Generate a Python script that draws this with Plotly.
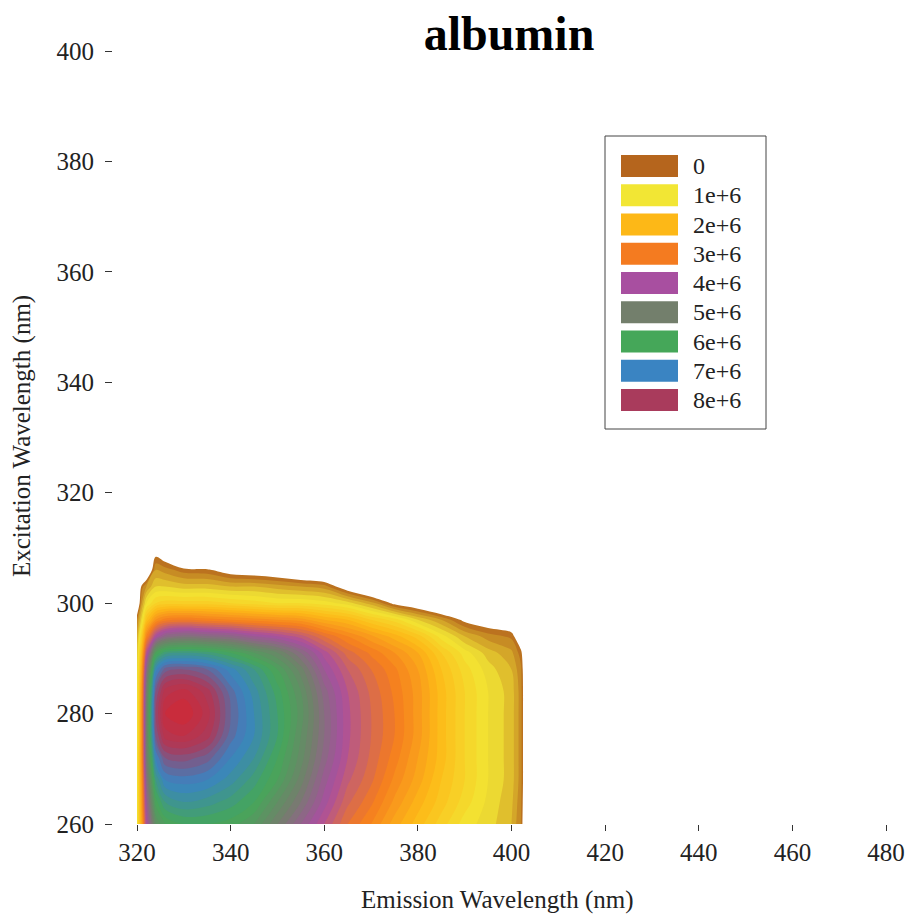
import plotly.graph_objects as go

# ---------------- data (intensity in units of 1e6) ----------------
emission = [320, 321, 322, 324, 326, 330, 335, 340, 345, 350, 355,
            360, 365, 370, 375, 380, 385, 390, 395, 400, 402, 404]
excitation = [260, 264, 268, 272, 276, 280, 284, 288, 291, 294, 297,
              300, 303, 306, 309, 312]

# one list per emission wavelength, values ordered by excitation
col_320 = [1.0, 1.0, 1.0, 1.0, 0.9, 0.9, 0.9, 0.8, 0.7, 0.5, 0.2, -0.5, -1, -1, -1, -1]
col_321 = [2.3, 2.4, 2.5, 2.6, 2.6, 2.6, 2.5, 2.3, 2.0, 1.5, 0.9, 0.4, 0.1, -1, -1, -1]
col_322 = [4.0, 4.3, 4.6, 4.9, 5.0, 5.0, 4.9, 4.5, 3.8, 2.8, 1.8, 1.0, 0.4, -0.6, -1, -1]
col_324 = [5.4, 5.9, 6.4, 7.0, 7.6, 7.8, 7.6, 6.9, 5.8, 4.0, 2.6, 1.4, 0.8, 0.4, -0.1, -1]
col_326 = [5.8, 6.4, 7.0, 7.6, 8.3, 8.6, 8.3, 7.5, 6.3, 4.5, 2.9, 1.5, 0.8, 0.3, -0.3, -1]
col_330 = [6.0, 6.6, 7.1, 7.7, 8.4, 8.8, 8.5, 7.6, 6.4, 4.7, 3.0, 1.5, 0.7, 0.1, -1, -1]
col_335 = [6.0, 6.5, 7.0, 7.5, 8.1, 8.3, 8.1, 7.4, 6.3, 4.6, 2.9, 1.5, 0.7, 0.05, -1, -1]
col_340 = [5.9, 6.3, 6.7, 7.0, 7.3, 7.4, 7.3, 6.9, 6.0, 4.5, 2.8, 1.4, 0.6, -0.2, -1, -1]
col_345 = [5.6, 6.0, 6.3, 6.6, 6.8, 6.8, 6.7, 6.4, 5.6, 4.2, 2.7, 1.3, 0.6, -0.3, -1, -1]
col_350 = [5.0, 5.4, 5.8, 6.0, 6.2, 6.2, 6.1, 5.8, 5.2, 4.0, 2.6, 1.2, 0.5, -0.4, -1, -1]
col_355 = [4.4, 4.8, 5.1, 5.3, 5.4, 5.5, 5.4, 5.1, 4.6, 3.7, 2.5, 1.2, 0.4, -0.6, -1, -1]
col_360 = [3.8, 4.1, 4.3, 4.5, 4.6, 4.6, 4.5, 4.2, 3.9, 3.2, 2.2, 1.1, 0.3, -0.8, -1, -1]
col_365 = [3.2, 3.45, 3.65, 3.8, 3.85, 3.85, 3.8, 3.6, 3.3, 2.8, 2.0, 0.9, -0.3, -1, -1, -1]
col_370 = [2.8, 3.05, 3.25, 3.35, 3.4, 3.4, 3.35, 3.2, 2.95, 2.45, 1.6, 0.5, -0.8, -1, -1, -1]
col_375 = [2.3, 2.55, 2.75, 2.9, 3.0, 3.0, 2.95, 2.85, 2.6, 2.1, 1.3, -0.1, -1, -1, -1, -1]
col_380 = [1.9, 2.1, 2.3, 2.4, 2.5, 2.5, 2.5, 2.4, 2.2, 1.7, 0.8, -0.4, -1, -1, -1, -1]
col_385 = [1.5, 1.7, 1.8, 1.9, 1.9, 1.9, 1.9, 1.8, 1.6, 1.1, 0.4, -0.8, -1, -1, -1, -1]
col_390 = [1.1, 1.3, 1.4, 1.4, 1.4, 1.4, 1.4, 1.3, 1.1, 0.6, -0.1, -1, -1, -1, -1, -1]
col_395 = [0.9, 0.95, 1.0, 1.0, 1.0, 1.0, 1.0, 0.9, 0.7, 0.3, -0.3, -1, -1, -1, -1, -1]
col_400 = [0.6, 0.65, 0.7, 0.7, 0.7, 0.7, 0.7, 0.6, 0.45, 0.15, -0.5, -1, -1, -1, -1, -1]
col_402 = [0.2, 0.25, 0.3, 0.3, 0.3, 0.3, 0.3, 0.25, 0.1, -0.4, -1, -1, -1, -1, -1, -1]
col_404 = [-1, -1, -1, -1, -1, -1, -1, -1, -1, -1, -1, -1, -1, -1, -1, -1]

columns = [col_320, col_321, col_322, col_324, col_326, col_330, col_335, col_340,
           col_345, col_350, col_355, col_360, col_365, col_370, col_375, col_380,
           col_385, col_390, col_395, col_400, col_402, col_404]
z = [list(row) for row in zip(*columns)]

legend_values = [0, 1, 2, 3, 4, 5, 6, 7, 8]
legend_labels = ["0", "1e+6", "2e+6", "3e+6", "4e+6", "5e+6", "6e+6", "7e+6", "8e+6"]
x_ticks = [320, 340, 360, 380, 400, 420, 440, 460, 480]
y_ticks = [260, 280, 300, 320, 340, 360, 380, 400]

# ---------------- styles ----------------
level_colors = ["#B5651D", "#F2E634", "#FDB817", "#F47B20", "#A84FA0",
                "#737F6C", "#45A759", "#3A84C2", "#A93B5C"]
peak_value, peak_color = 9, "#D6262F"
FONT = "Liberation Serif"
W, H = 909, 922

c_start, c_end, c_size = 0.0, 9.0, 0.2
nc = int((c_end - c_start) / c_size + 1e-6) + 1


def frac(v):
    return ((v - c_start) / c_size + 0.5) / nc


colorscale = [[0.0, "white"]]
for v, c in zip(legend_values + [peak_value], level_colors + [peak_color]):
    colorscale.append([frac(v), c])
colorscale.append([1.0, peak_color])

fig = go.Figure(go.Contour(
    x=emission, y=excitation, z=z,
    autocontour=False,
    contours=dict(start=c_start, end=c_end, size=c_size, coloring="fill", showlines=False),
    line=dict(width=0),
    colorscale=colorscale, showscale=False, hoverinfo="skip",
))

px = lambda p: p / W
py = lambda p: 1 - p / H

tickfont = dict(family=FONT, size=25, color="#222")
fig.update_layout(
    template="none",
    width=W, height=H,
    margin=dict(l=0, r=0, t=0, b=0, pad=0, autoexpand=False),
    paper_bgcolor="white", plot_bgcolor="white",
    showlegend=False,
    title=dict(text="<b>albumin</b>", font=dict(family=FONT, size=48, color="black"),
               x=px(509), y=py(33), xref="container", yref="container",
               xanchor="center", yanchor="middle"),
    xaxis=dict(domain=[px(137), px(886)], range=[320, 480], tickvals=x_ticks,
               automargin=False,
               ticks="outside", ticklen=6, tickwidth=1.3, tickcolor="#333",
               showgrid=False, zeroline=False, showline=False, tickfont=tickfont),
    yaxis=dict(domain=[py(824), py(51)], range=[260, 400], tickvals=y_ticks,
               automargin=False,
               anchor="free", position=px(112),
               ticks="outside", ticklen=7, tickwidth=1.3, tickcolor="#333",
               showgrid=False, zeroline=False, showline=False, tickfont=tickfont,
               ticklabelstandoff=6),
)

annotations = [
    dict(text="Emission Wavelength (nm)", x=px(498), y=py(900), xref="paper", yref="paper",
         showarrow=False, font=dict(family=FONT, size=25, color="#222"),
         xanchor="center", yanchor="middle"),
    dict(text="Excitation Wavelength (nm)", x=px(22), y=py(436), xref="paper", yref="paper",
         showarrow=False, textangle=-90, font=dict(family=FONT, size=25, color="#222"),
         xanchor="center", yanchor="middle"),
]
shapes = [dict(type="rect", xref="paper", yref="paper", x0=px(605), x1=px(766),
               y0=py(429), y1=py(136), line=dict(color="#444", width=1), fillcolor="white",
               layer="below")]
for i, (lab, col) in enumerate(zip(legend_labels, level_colors)):
    cy = 166 + 29.25 * i
    shapes.append(dict(type="rect", xref="paper", yref="paper", x0=px(621), x1=px(678),
                       y0=py(cy + 11), y1=py(cy - 11), fillcolor=col, line=dict(width=0)))
    annotations.append(dict(text=lab, x=px(691), y=py(cy), xref="paper", yref="paper",
                            showarrow=False, xanchor="left", yanchor="middle",
                            font=dict(family=FONT, size=24, color="#222")))
fig.update_layout(annotations=annotations, shapes=shapes)

fig.write_html("out.html")
